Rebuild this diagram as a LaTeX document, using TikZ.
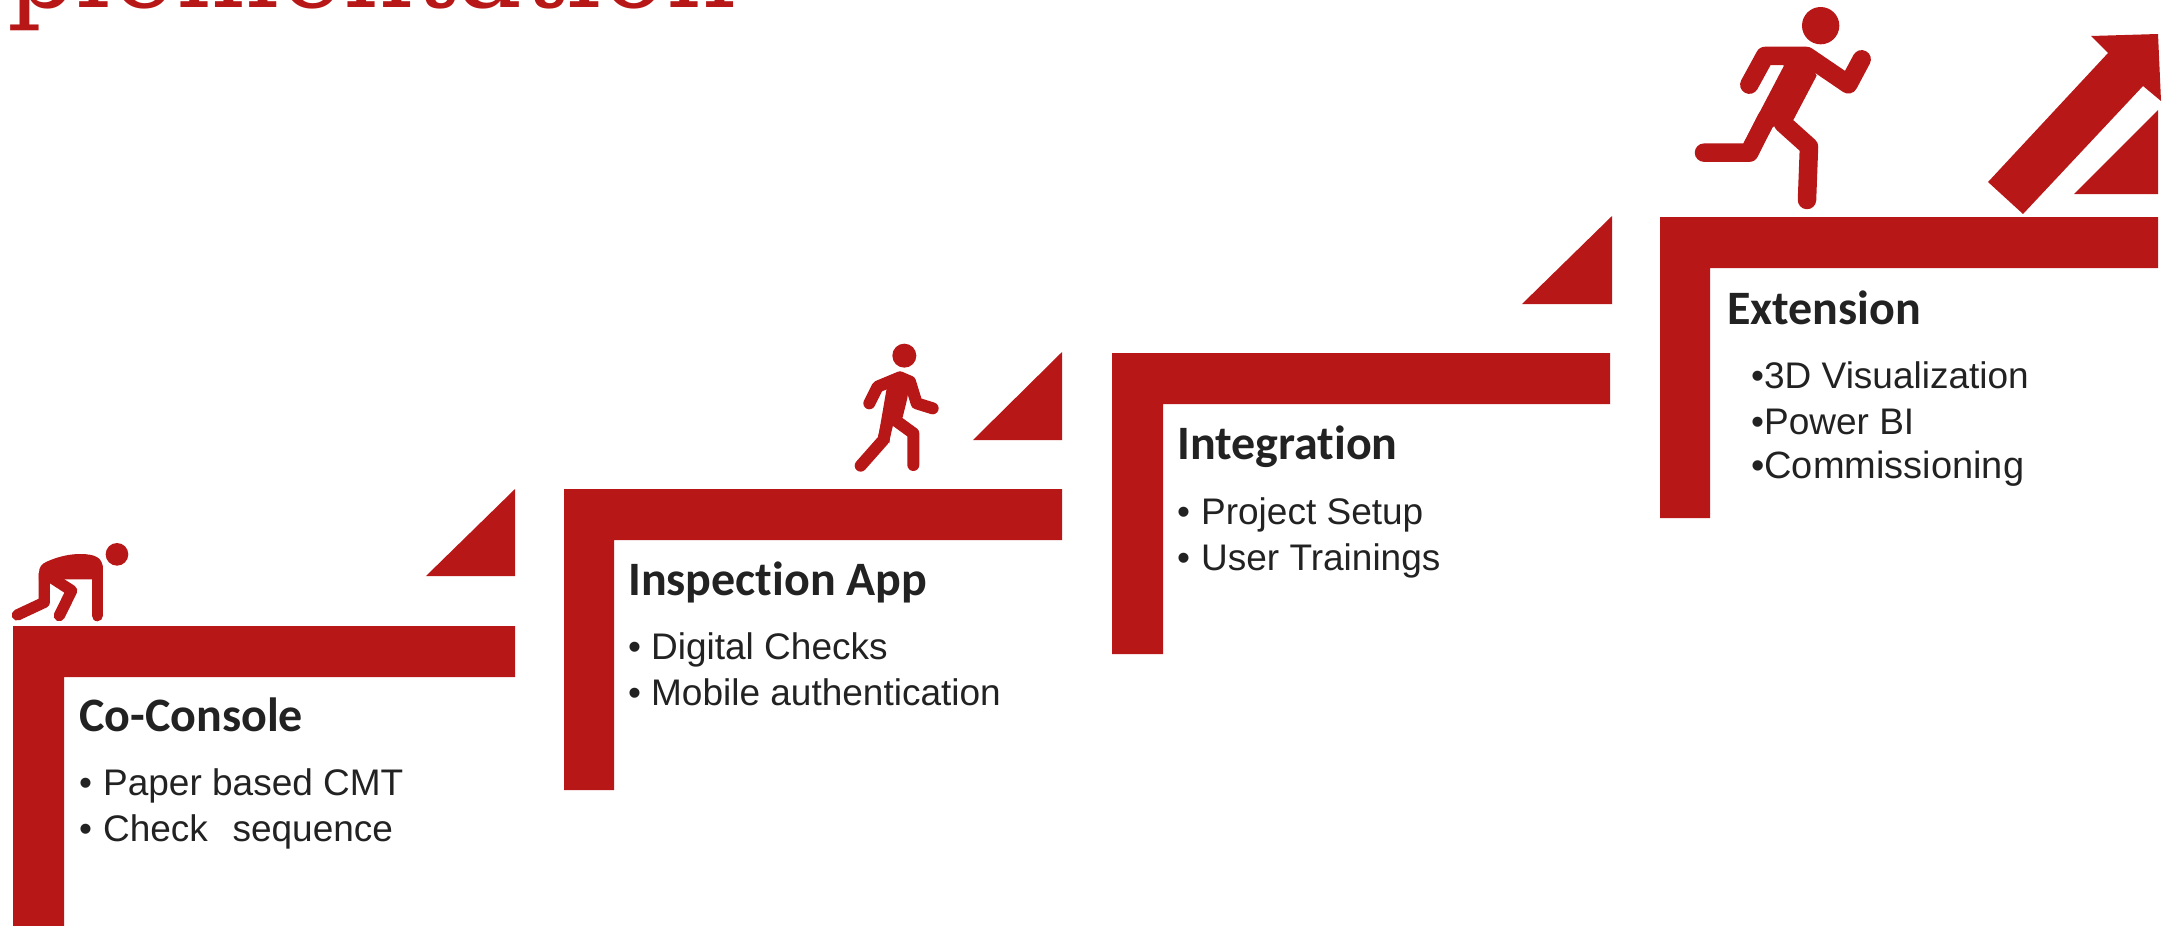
\documentclass[tikz,border=0pt]{standalone}
\usepackage{fontspec}
\setmainfont{Liberation Sans}
\newfontfamily\headfont[Ligatures=NoCommon]{Carlito}
\newfontfamily\titlefont{DejaVu Serif}
\definecolor{stepred}{HTML}{B81717}
\definecolor{ink}{HTML}{222222}
\tikzset{
  x=1pt,y=-1pt,
  bar/.style={fill=stepred,draw=none},
  limb/.style={draw=stepred,line cap=round,line join=round,fill=none},
  heading/.style={anchor=base west,inner sep=0pt,text=ink,font=\headfont\bfseries\fontsize{48}{54}\selectfont},
  item/.style={anchor=base west,inner sep=0pt,text=ink,font=\fontsize{37}{43}\selectfont},
}
\begin{document}
\begin{tikzpicture}
\useasboundingbox (0,0) rectangle (2171,926);
\begin{scope}
\clip (0,0) rectangle (2171,926);
\node[anchor=base west,inner sep=0pt,text=stepred,xscale=0.972,font=\titlefont\fontsize{112}{118}\selectfont] (title) at (7,8) {plementation};
% steps
\fill[bar] (13,926)--(13,626)--(515,626)--(515,677)--(64,677)--(64,926)--cycle;
\fill[bar] (564,790)--(564,489)--(1062,489)--(1062,540)--(614,540)--(614,790)--cycle;
\fill[bar] (1112,654)--(1112,353)--(1610,353)--(1610,404)--(1163,404)--(1163,654)--cycle;
\fill[bar] (1660,518)--(1660,217)--(2158,217)--(2158,268)--(1710,268)--(1710,518)--cycle;
% triangles
\fill[bar] (426,576)--(515,489)--(515,576)--cycle;
\fill[bar] (973,440)--(1062,352)--(1062,440)--cycle;
\fill[bar] (1522,304)--(1612,216)--(1612,304)--cycle;
\fill[bar] (2074,194)--(2158,110)--(2158,194)--cycle;
% arrow
\fill[bar] (1988,182)--(2023,214)--(2143,86)--(2161,101)--(2158,34)--(2091,36)--(2108,53)--cycle;
% crouching figure
\begin{scope}[shift={(0,520)},x=0.3333pt,y=-0.3333pt]
\fill[stepred] (351,103) circle[radius=34*1];
\draw[limb,line width=11.3pt] (52,285)--(133,247)--(133,160);
\draw[limb,line width=11.3pt] (178,287)--(215,212)--(150,170);
\draw[limb,line width=11.3pt] (292,140)--(292,287);
\fill[stepred] (117,180)--(117,160) .. controls (117,140) and (125,132) .. (140,125) .. controls (180,107) and (215,102) .. (240,102) .. controls (290,102) and (308,115) .. (308,145)--(308,178)--(195,178)--(150,185)--cycle;
\end{scope}
% walking figure
\begin{scope}[shift={(830,330)},x=0.3333pt,y=-0.3333pt]
\fill[stepred] (223,77) circle[radius=36*1];
\draw[limb,line width=12pt] (118,220)--(143,170)--(210,142)--(240,155)--(260,220)--(308,235);
\draw[limb,line width=12pt] (92,407)--(160,330)--(172,280);
\draw[limb,line width=12pt] (195,270)--(250,310)--(250,405);
\fill[stepred] (170,175)--(145,320)--(178,340)--(185,285)--(218,262)--(232,205)--(240,150)--(210,125)--(135,155)--cycle;
\end{scope}
% running figure
\begin{scope}[shift={(1660,0)},x=0.3333pt,y=-0.3333pt]
\fill[stepred] (482,77) circle[radius=56*1];
\draw[limb,line width=18.5pt] (268,254)--(315,168)--(440,168)--(565,253)--(605,178);
\draw[limb,line width=18.5pt] (132,458)--(268,458)--(320,355);
\draw[limb,line width=18.5pt] (369,370)--(447,440)--(441,600);
\fill[stepred] (372,197)--(250,430)--(290,470)--(338,381)--(400,360)--(470,227)--(440,170)--(330,170)--cycle;
\end{scope}
\end{scope}
% text
\node[heading] (h1) at (79,731) {Co-Console};
\node[item] (i1a) at (79,795) {•\kern11pt Paper based CMT};
\node[item] (i1b) at (79,841) {•\kern11pt Check\ \ \kern4pt sequence};
\node[heading] (h2) at (628,595) {Inspection App};
\node[item] (i2a) at (628,659) {•\kern10pt Digital Checks};
\node[item] (i2b) at (628,705) {•\kern10pt Mobile authentication};
\node[heading] (h3) at (1177,459) {Integration};
\node[item] (i3a) at (1177,524) {•\kern11pt Project Setup};
\node[item] (i3b) at (1177,570) {•\kern11pt User Trainings};
\node[heading] (h4) at (1727,324) {Extension};
\node[item] (i4a) at (1751,388) {•3D Visualization};
\node[item] (i4b) at (1751,434) {•Power BI};
\node[item,font=\fontsize{38}{44}\selectfont] (i4c) at (1751,478) {•Commissioning};
\end{tikzpicture}
\end{document}
